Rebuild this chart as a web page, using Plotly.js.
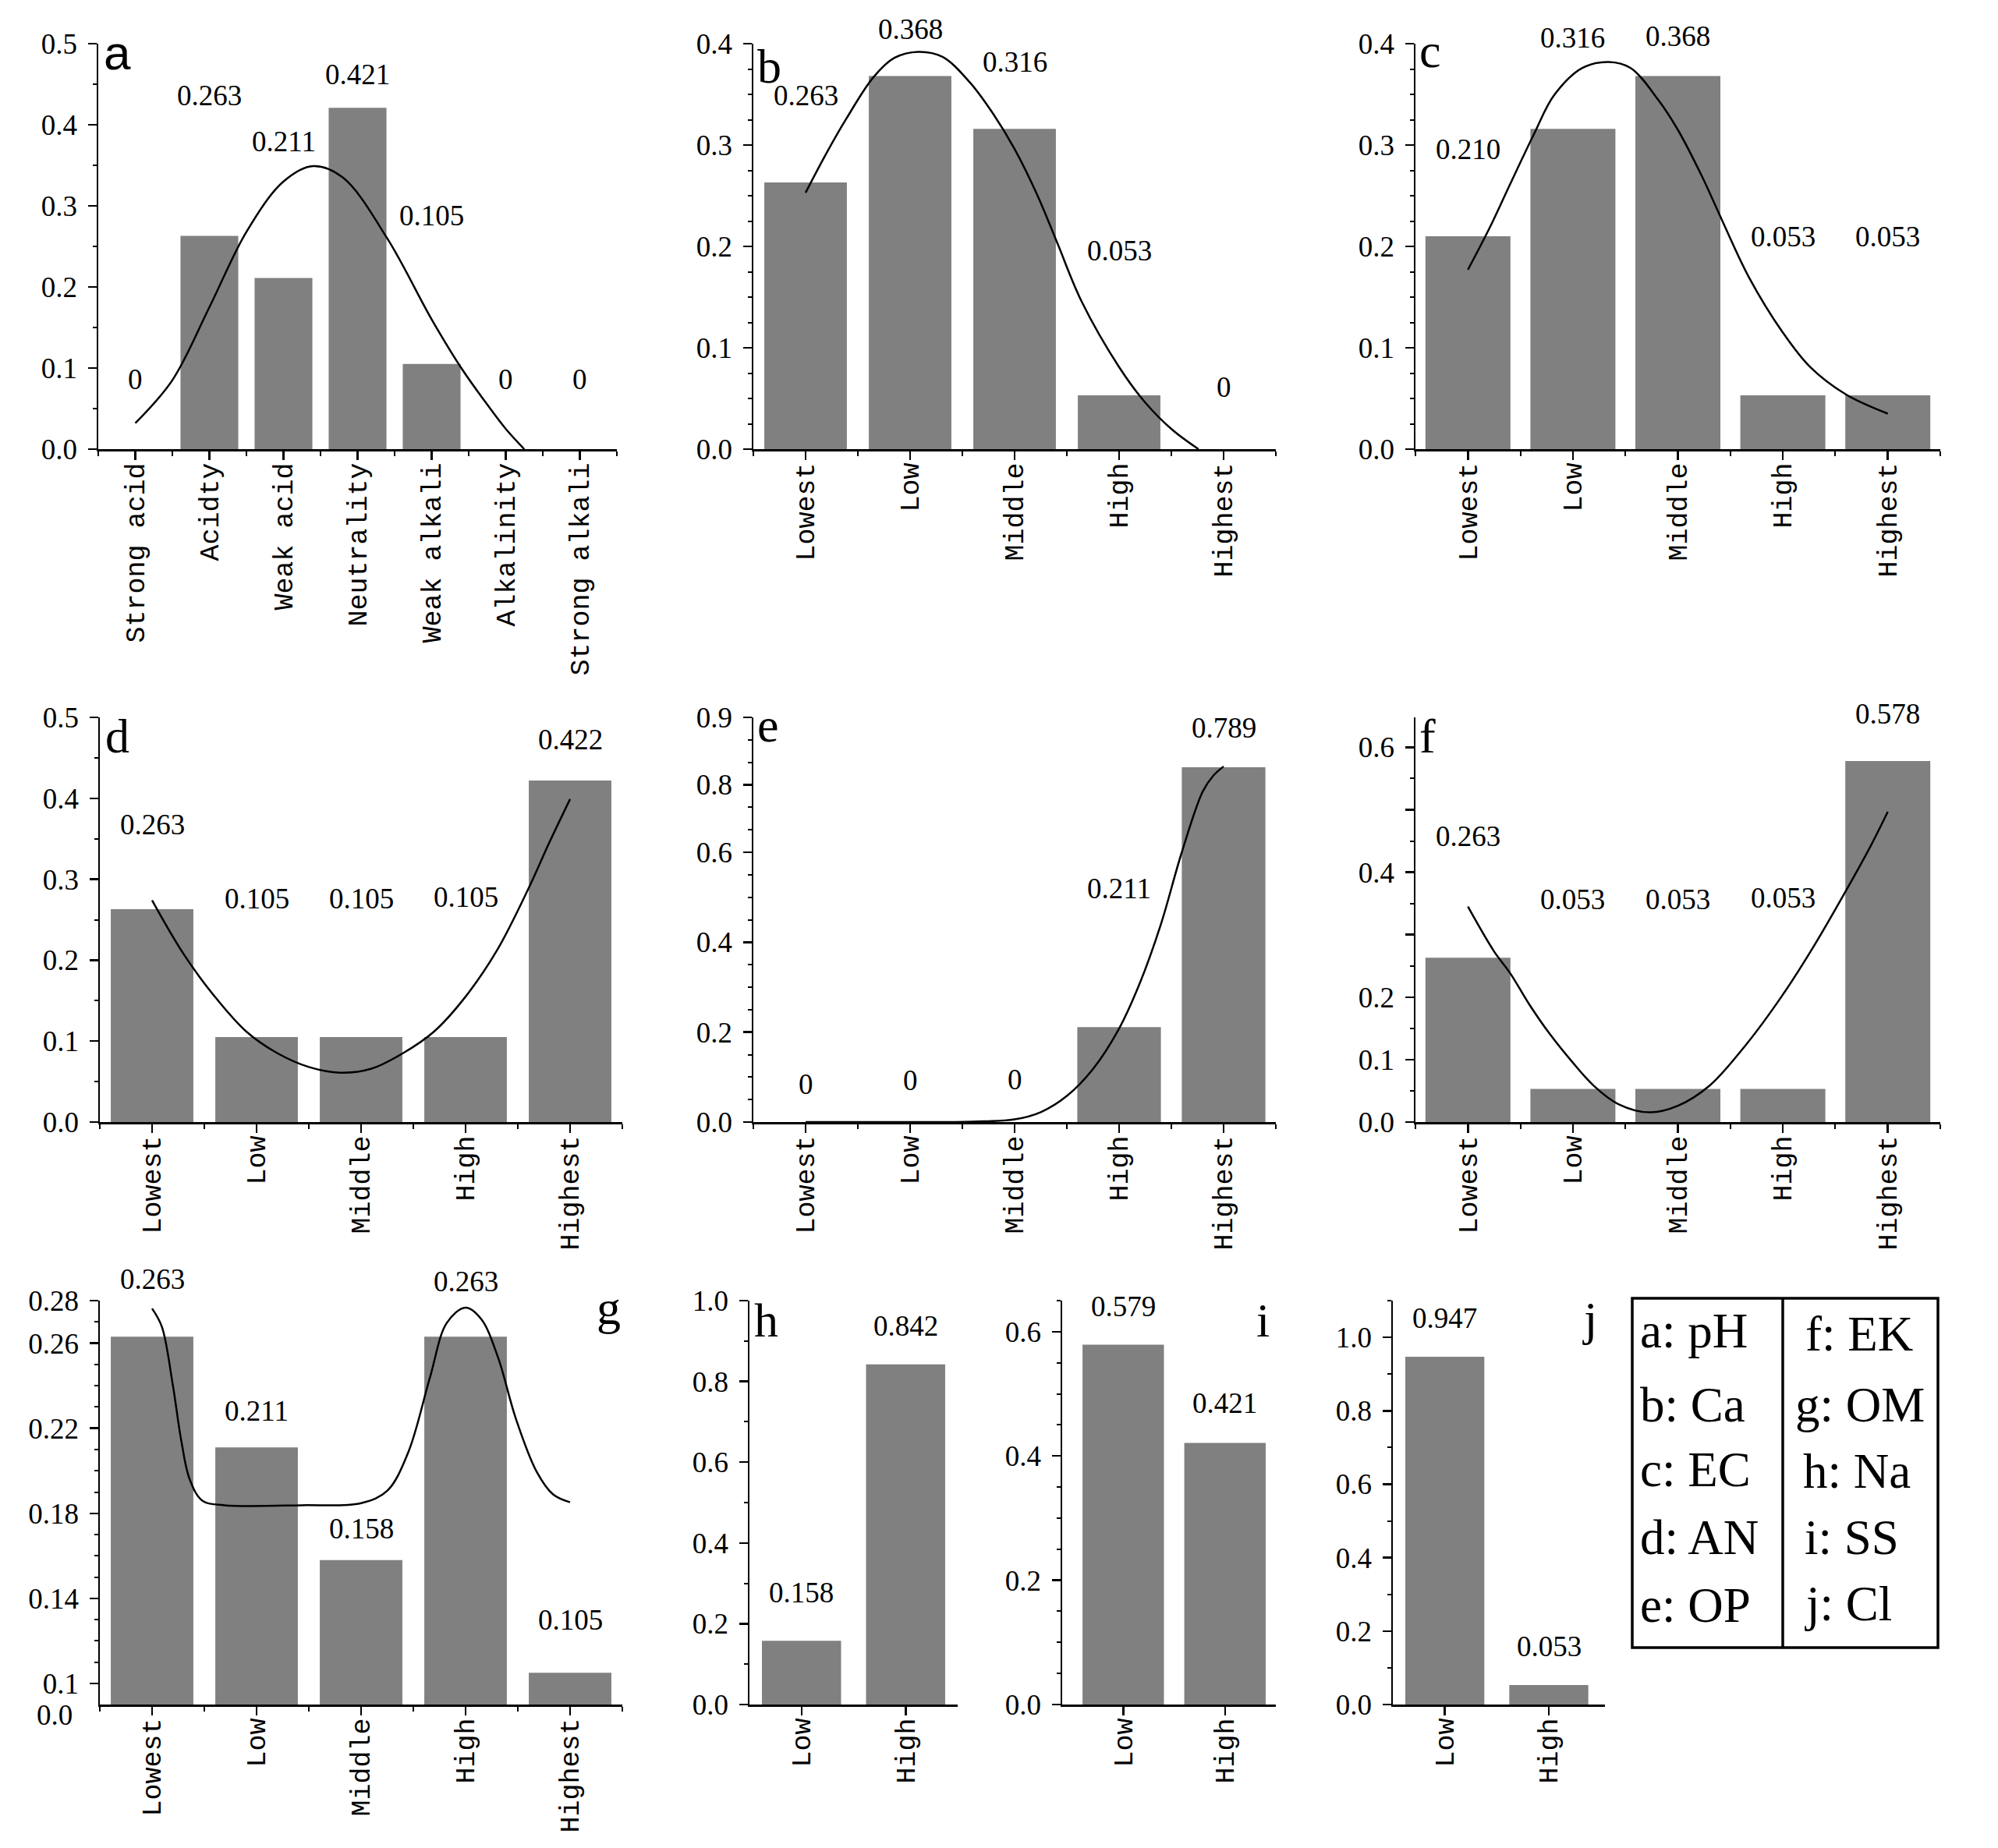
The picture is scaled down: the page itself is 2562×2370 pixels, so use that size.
<!DOCTYPE html>
<html>
<head>
<meta charset="utf-8">
<script src="https://cdn.plot.ly/plotly-3.0.1.min.js"></script>
<style>
  html, body { margin: 0; padding: 0; background: #fff; }
  #plot { width: 2562px; height: 2370px; }
</style>
</head>
<body>
<div id="plot"></div>
<script>
// ---- categories ----
const catsPH = ['Strong acid', 'Acidty', 'Weak acid', 'Neutrality', 'Weak alkali', 'Alkalinity', 'Strong alkali'];
const catsFive = ['Lowest', 'Low', 'Middle', 'High', 'Highest'];
const catsTwo = ['Low', 'High'];

// ---- class frequencies ----
const freqA = [0, 0.263, 0.211, 0.421, 0.105, 0, 0];
const freqB = [0.263, 0.368, 0.316, 0.053, 0];
const freqC = [0.210, 0.316, 0.368, 0.053, 0.053];
const freqD = [0.263, 0.105, 0.105, 0.105, 0.422];
const freqE = [0, 0, 0, 0.211, 0.789];
const freqF = [0.263, 0.053, 0.053, 0.053, 0.578];
const freqG = [0.263, 0.211, 0.158, 0.263, 0.105];
const freqH = [0.158, 0.842];
const freqI = [0.579, 0.421];
const freqJ = [0.947, 0.053];

// ---- fitted curves (x in category units) ----
const curveAX = [0, 0.5, 1.0, 1.5, 2.0, 2.4, 2.8, 3.4, 4.0, 4.4, 4.75, 5.0, 5.25];
const curveAY = [0.032, 0.085, 0.175, 0.268, 0.330, 0.349, 0.335, 0.260, 0.160, 0.100, 0.055, 0.025, 0.0];
const curveBX = [0, 0.2, 0.39, 0.65, 0.85, 1.08, 1.31, 1.57, 1.8, 2.0, 2.22, 2.41, 2.64, 3.0, 3.25, 3.51, 3.76];
const curveBY = [0.253, 0.292, 0.326, 0.367, 0.386, 0.392, 0.387, 0.362, 0.330, 0.296, 0.250, 0.203, 0.146, 0.081, 0.046, 0.019, 0.0];
const curveCX = [0, 0.21, 0.4, 0.63, 0.82, 1.09, 1.34, 1.55, 1.81, 2.0, 2.23, 2.42, 2.68, 3.0, 3.26, 3.6, 4.0];
const curveCY = [0.177, 0.219, 0.261, 0.311, 0.349, 0.376, 0.382, 0.376, 0.345, 0.315, 0.269, 0.226, 0.169, 0.115, 0.081, 0.054, 0.035];
const curveDX = [0, 0.3, 0.6, 0.9, 1.2, 1.5, 1.8, 2.1, 2.4, 2.7, 3.0, 3.3, 3.6, 3.8, 4.0];
const curveDY = [0.274, 0.208, 0.155, 0.112, 0.085, 0.068, 0.061, 0.066, 0.085, 0.112, 0.155, 0.212, 0.288, 0.345, 0.399];
const curveEX = [0, 1.0, 1.6, 2.0, 2.25, 2.5, 2.75, 3.0, 3.2, 3.4, 3.6, 3.8, 3.9, 4.0];
const curveEY = [0, 0, 0.001, 0.006, 0.022, 0.058, 0.118, 0.208, 0.31, 0.44, 0.60, 0.735, 0.77, 0.791];
const curveFX = [0, 0.25, 0.4, 0.59, 0.78, 1.0, 1.2, 1.43, 1.73, 2.0, 2.3, 2.65, 3.0, 3.3, 3.6, 3.83, 4.0];
const curveFY = [0.345, 0.273, 0.239, 0.187, 0.141, 0.095, 0.058, 0.029, 0.0155, 0.026, 0.058, 0.124, 0.204, 0.283, 0.37, 0.44, 0.497];
const curveGX = [0, 0.094, 0.197, 0.28, 0.36, 0.48, 0.69, 1.43, 2.0, 2.25, 2.45, 2.66, 2.82, 3.0, 3.15, 3.31, 3.48, 3.68, 3.84, 4.0];
const curveGY = [0.2763, 0.2677, 0.2408, 0.214, 0.196, 0.186, 0.1838, 0.1838, 0.1848, 0.1906, 0.2085, 0.244, 0.2695, 0.2767, 0.2713, 0.2534, 0.2247, 0.1996, 0.1888, 0.1852];

// ---- key box ----
const keyLeft = ['a: pH', 'b: Ca', 'c: EC', 'd: AN', 'e: OP'];
const keyRight = ['f: EK', 'g: OM', 'h: Na', 'i: SS', 'j: Cl'];

// ---- where the value labels sit (axis units) ----
const labelYA = [0.086, 0.436, 0.379, 0.462, 0.288, 0.086, 0.086];
const labelYB = [0.349, 0.414, 0.382, 0.196, 0.061];
const labelYC = [0.296, 0.406, 0.407, 0.210, 0.210];
const labelYD = [0.368, 0.276, 0.276, 0.278, 0.473];
const labelYE = [0.084, 0.092, 0.094, 0.519, 0.877];
const labelYF = [0.457, 0.356, 0.357, 0.359, 0.653];
const labelYG = [0.290, 0.228, 0.1726, 0.289, 0.130];
const labelYH = [0.277, 0.937];
const labelYI = [0.641, 0.485];
const labelYJ = [1.053, 0.158];

const W = 2562, H = 2370;
const SERIF = 'Liberation Serif';
const MONO = 'Liberation Mono';

// box = [left, right, top, bottom] in page pixels
const panels = [
  { tag: 'a', cats: catsPH, vals: freqA, cx: curveAX, cy: curveAY, ly: labelYA,
    box: [126, 791, 56, 576], yr: [0, 0.5], dtick: 0.1, minor: 0.05, bw: 0.78,
    tagPos: [0.008, 0.977, 'left'], tagFont: 'Liberation Sans' },
  { tag: 'b', cats: catsFive, vals: freqB, cx: curveBX, cy: curveBY, ly: labelYB,
    box: [966, 1636, 56, 576], yr: [0, 0.4], dtick: 0.1, minor: 0.025, bw: 0.79,
    tagPos: [0.005, 0.945, 'left'] },
  { tag: 'c', cats: catsFive, vals: freqC, cx: curveCX, cy: curveCY, ly: labelYC,
    box: [1815, 2488, 56, 576], yr: [0, 0.4], dtick: 0.1, minor: 0.025, bw: 0.81,
    tagPos: [0.005, 0.983, 'left'] },
  { tag: 'd', cats: catsFive, vals: freqD, cx: curveDX, cy: curveDY, ly: labelYD,
    box: [128, 798, 920, 1439], yr: [0, 0.5], dtick: 0.1, minor: 0.05, bw: 0.79,
    tagPos: [0.008, 0.954, 'left'] },
  { tag: 'e', cats: catsFive, vals: freqE, cx: curveEX, cy: curveEY, ly: labelYE,
    box: [966, 1636, 920, 1439], yr: [0, 0.9], minor: 0.05, bw: 0.80,
    yTicks: [0, 0.2, 0.4, 0.6, 0.75, 0.9], yText: ['0.0', '0.2', '0.4', '0.6', '0.8', '0.9'],
    tagPos: [0.005, 0.98, 'left'] },
  { tag: 'f', cats: catsFive, vals: freqF, cx: curveFX, cy: curveFY, ly: labelYF,
    box: [1815, 2488, 920, 1439], yr: [0, 0.648], minor: 0.05, bw: 0.81,
    yTicks: [0, 0.1, 0.2, 0.3, 0.4, 0.5, 0.6], yText: ['0.0', '0.1', '0.2', '', '0.4', '', '0.6'],
    tagPos: [0.005, 0.954, 'left'] },
  { tag: 'g', cats: catsFive, vals: freqG, cx: curveGX, cy: curveGY, ly: labelYG,
    box: [128, 798, 1668, 2186], yr: [0.0901, 0.28], minor: 0.01, bw: 0.79,
    yTicks: [0.1, 0.14, 0.18, 0.22, 0.26, 0.28], yText: ['0.1', '0.14', '0.18', '0.22', '0.26', '0.28'],
    tagPos: [1.0, 0.982, 'right'] },
  { tag: 'h', cats: catsTwo, vals: freqH, ly: labelYH, noXMinor: true,
    box: [961, 1228, 1668, 2186], yr: [0, 1.0], dtick: 0.2, minor: 0.1, bw: 0.76,
    tagPos: [0.015, 0.951, 'left'] },
  { tag: 'i', cats: catsTwo, vals: freqI, ly: labelYI, noXMinor: true, xr: [-0.6, 1.5],
    box: [1362, 1636, 1668, 2186], yr: [0, 0.65], dtick: 0.2, minor: 0.05, bw: 0.80,
    tagPos: [0.94, 0.951, 'center'] },
  { tag: 'j', cats: catsTwo, vals: freqJ, ly: labelYJ, noXMinor: true, xr: [-0.5, 1.54],
    box: [1786, 2058, 1668, 2186], yr: [0, 1.10], dtick: 0.2, minor: 0.1, bw: 0.76,
    tagPos: [0.93, 0.956, 'center'] },
];

const data = [];
const annotations = [];
const shapes = [];
const layout = {
  width: W, height: H,
  margin: { l: 0, r: 0, t: 0, b: 0 },
  showlegend: false,
  paper_bgcolor: '#ffffff',
  plot_bgcolor: 'rgba(0,0,0,0)',
  font: { family: SERIF, color: '#000' },
};

function fmtVal(v) { return v === 0 ? '0' : v.toFixed(3); }

panels.forEach((p, i) => {
  const n = i === 0 ? '' : String(i + 1);
  const xa = 'x' + n, ya = 'y' + n;
  const [l, r, t, b] = p.box;
  const idx = p.cats.map((_, k) => k);
  const xr = p.xr || [-0.5, p.cats.length - 0.5];

  layout['xaxis' + n] = {
    domain: [l / W, r / W], range: xr, anchor: ya,
    tickmode: 'array', tickvals: idx, ticktext: p.cats,
    tickangle: -90, ticks: 'outside', ticklen: 11, tickwidth: 2.5, tickcolor: '#000',
    ticklabelstandoff: -10,
    tickfont: { family: MONO, size: 35, color: '#000' },
    showline: true, linecolor: '#000', linewidth: 2.5,
    showgrid: false, zeroline: false, fixedrange: true,
    minor: p.noXMinor ? undefined :
      { tickmode: 'linear', tick0: 0.5, dtick: 1, ticks: 'outside', ticklen: 6, tickwidth: 2, tickcolor: '#000', showgrid: false },
  };

  const yax = {
    domain: [1 - b / H, 1 - t / H], range: p.yr, anchor: xa,
    ticks: 'outside', ticklen: 11, tickwidth: 2.5, tickcolor: '#000',
    ticklabelstandoff: 6,
    tickfont: { family: SERIF, size: 37, color: '#000' },
    showline: true, linecolor: '#000', linewidth: 2.5,
    showgrid: false, zeroline: false, fixedrange: true,
    minor: { tickmode: 'linear', tick0: 0, dtick: p.minor, ticks: 'outside', ticklen: 5, tickwidth: 2, tickcolor: '#000', showgrid: false },
  };
  if (p.yTicks) {
    yax.tickmode = 'array'; yax.tickvals = p.yTicks; yax.ticktext = p.yText;
  } else {
    yax.tickmode = 'linear'; yax.tick0 = 0; yax.dtick = p.dtick; yax.tickformat = '.1f';
  }
  layout['yaxis' + n] = yax;

  data.push({
    type: 'bar', x: idx, y: p.vals, width: p.bw,
    marker: { color: '#808080', line: { width: 0 } },
    xaxis: xa, yaxis: ya, hoverinfo: 'skip',
  });
  if (p.cx) {
    data.push({
      type: 'scatter', mode: 'lines', x: p.cx, y: p.cy,
      line: { color: '#000', width: 2.5, shape: 'spline', smoothing: 1 },
      xaxis: xa, yaxis: ya, hoverinfo: 'skip',
    });
  }

  const span = p.yr[1] - p.yr[0];
  p.vals.forEach((v, k) => {
    annotations.push({
      xref: xa, yref: ya + ' domain', x: k, y: (p.ly[k] - p.yr[0]) / span,
      text: fmtVal(v), showarrow: false, xanchor: 'center', yanchor: 'middle',
      font: { family: SERIF, size: 37, color: '#000' },
    });
  });

  annotations.push({
    xref: xa + ' domain', yref: ya + ' domain', x: p.tagPos[0], y: p.tagPos[1],
    text: p.tag, showarrow: false, xanchor: p.tagPos[2], yanchor: 'middle',
    font: { family: p.tagFont || SERIF, size: 62, color: '#000' },
  });
});

// panel g: the broken axis keeps a "0.0" label just under the baseline
annotations.push({
  xref: 'x7 domain', yref: 'y7 domain', x: -0.05, y: -0.026,
  text: '0.0', showarrow: false, xanchor: 'right', yanchor: 'middle',
  font: { family: SERIF, size: 37, color: '#000' },
});

// key box
const boxL = 2093, boxR = 2485, boxT = 1665, boxB = 2113, boxMid = 2286;
shapes.push({ type: 'rect', xref: 'paper', yref: 'paper',
  x0: boxL / W, x1: boxR / W, y0: 1 - boxB / H, y1: 1 - boxT / H,
  line: { color: '#000', width: 3.5 } });
shapes.push({ type: 'line', xref: 'paper', yref: 'paper',
  x0: boxMid / W, x1: boxMid / W, y0: 1 - boxB / H, y1: 1 - boxT / H,
  line: { color: '#000', width: 3.5 } });

const keyRowsL = [1707, 1802, 1885, 1972, 2059];
const keyRowsR = [1711, 1802, 1887, 1972, 2057];
const keyXR = [2313, 2300, 2310, 2312, 2312];
keyLeft.forEach((s, k) => annotations.push({
  xref: 'paper', yref: 'paper', x: 2101 / W, y: 1 - keyRowsL[k] / H,
  text: s, showarrow: false, xanchor: 'left', yanchor: 'middle',
  font: { family: SERIF, size: 63, color: '#000' },
}));
keyRight.forEach((s, k) => annotations.push({
  xref: 'paper', yref: 'paper', x: keyXR[k] / W, y: 1 - keyRowsR[k] / H,
  text: s, showarrow: false, xanchor: 'left', yanchor: 'middle',
  font: { family: SERIF, size: 63, color: '#000' },
}));

layout.annotations = annotations;
layout.shapes = shapes;

Plotly.newPlot('plot', data, layout, { displayModeBar: false, staticPlot: true });
</script>
</body>
</html>
